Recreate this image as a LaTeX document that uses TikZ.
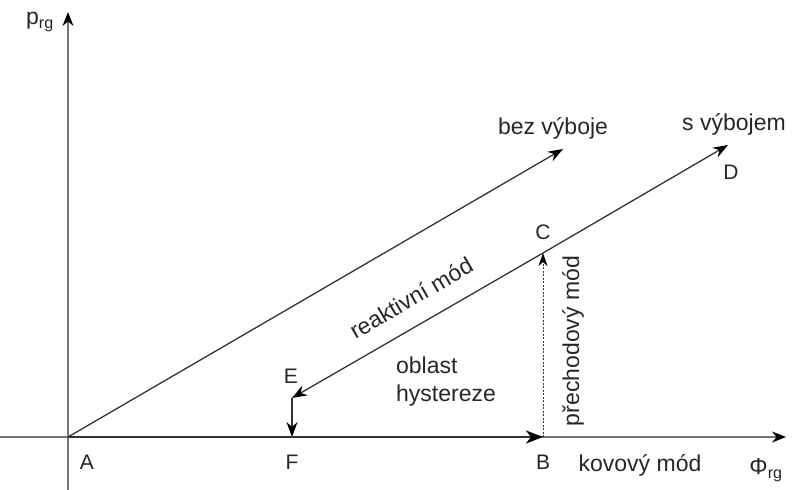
\documentclass[tikz,border=0pt]{standalone}
\usepackage{fontspec}
\setmainfont{Liberation Sans}
\usetikzlibrary{arrows.meta}
\tikzset{
  lbl/.style={font=\fontsize{21}{24}\selectfont, text=black!85, inner sep=0pt},
  txt/.style={font=\fontsize{23}{27}\selectfont, text=black!85, inner sep=0pt},
  axis/.style={draw=black!55, line width=1.3pt, -{Stealth[length=14pt,width=11pt,black]}},
  conn/.style={draw=black!80, line width=1.3pt, -{Stealth[length=15pt,width=11pt,inset=5pt,black]}},
  thick conn/.style={draw=black!80, line width=2.6pt, -{Stealth[length=17pt,width=13pt,inset=5pt,black]}}
}
\begin{document}
\begin{tikzpicture}[x=1pt,y=-1pt]
\useasboundingbox (0,0) rectangle (796,490);
% coordinates
\coordinate (A) at (68,437);
\coordinate (ybot) at (68,490);
\coordinate (ytop) at (68,12);
\coordinate (xleft) at (0,437);
\coordinate (xright) at (786,437);
\coordinate (B) at (543,437);
\coordinate (C) at (543,253);
\coordinate (D) at (728,145);
\coordinate (E) at (292,398);
\coordinate (F) at (292,437);
\coordinate (U) at (563,149);
% axes
\draw[axis] (ybot) -- (ytop);
\draw[axis] (xleft) -- (xright);
% lines
\draw[conn] (A) -- (U);
\draw[conn] (C) -- (D);
\draw[conn] (C) -- (E);
\draw[conn] (E) -- (F);
\draw[thick conn] (A) -- (B);
\draw[draw=black!80, line width=0.8pt, dash pattern=on 2pt off 1.5pt, -{Stealth[length=13pt,width=9pt,inset=4pt,black]}] (B) -- (C);
% labels
\node[txt] (lp) at (40,22) {p\textsubscript{rg}};
\node[txt] (lphi) at (766,470) {Φ\textsubscript{rg}};
\node[lbl] (lA) at (87,462) {A};
\node[lbl] (lF) at (292,462) {F};
\node[lbl] (lB) at (543,462) {B};
\node[txt] (lkov) at (640,465) {kovový mód};
\node[lbl] (lE) at (291,376) {E};
\node[lbl] (lC) at (543,232) {C};
\node[lbl] (lD) at (731,172) {D};
\node[txt] (lbez) at (553,128) {bez výboje};
\node[txt] (ls) at (734,124) {s výbojem};
\node[txt, align=left] (lobl) at (446,382) {oblast\\[1pt]hystereze};
\node[txt, rotate=30.2] (lreak) at (411,298) {reaktivní mód};
\node[txt, rotate=90] (lpre) at (573,341) {přechodový mód};
\end{tikzpicture}
\end{document}
